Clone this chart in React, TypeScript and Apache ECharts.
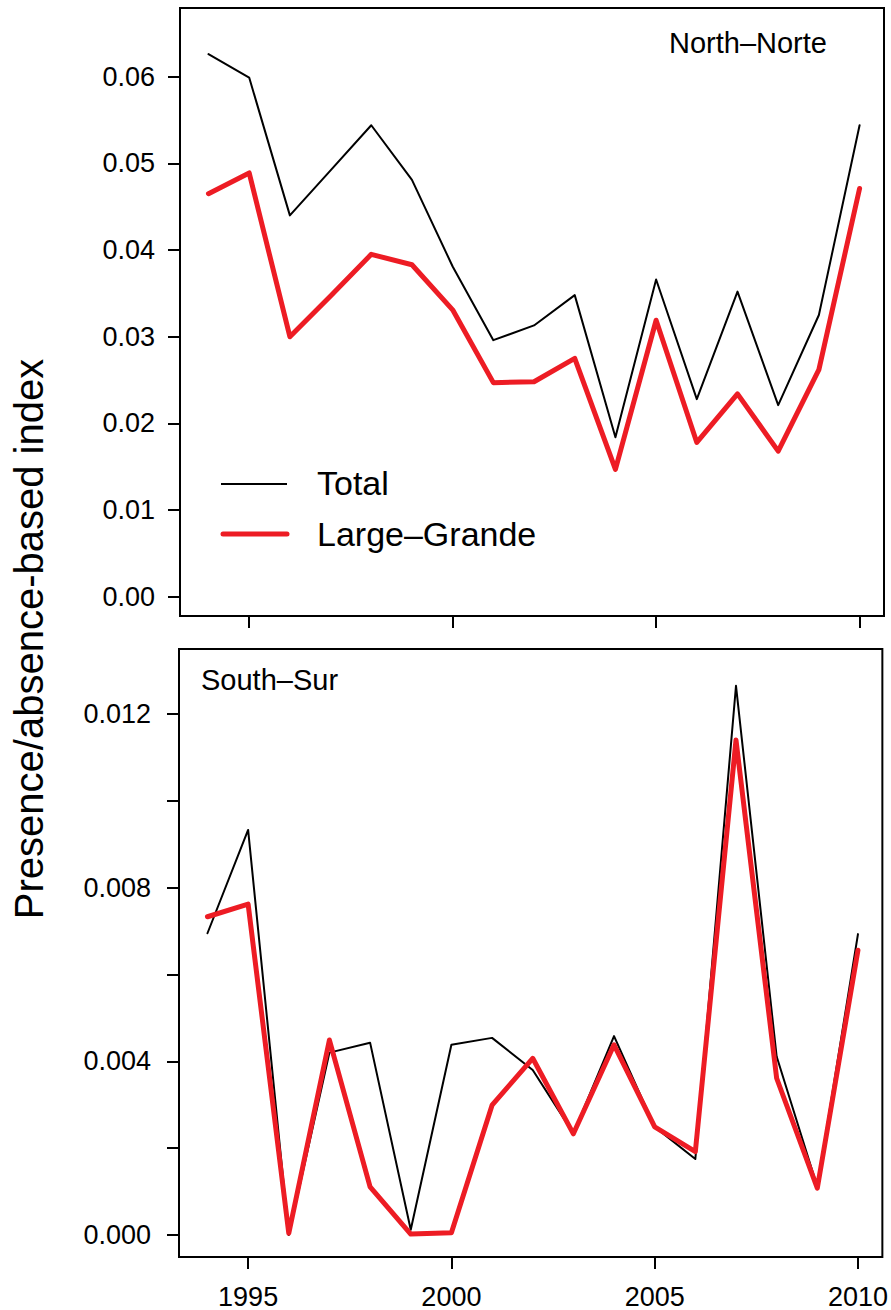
import React, { useEffect, useRef } from 'react';
import * as echarts from 'echarts';

// ---- data ----
const years = [1994, 1995, 1996, 1997, 1998, 1999, 2000, 2001, 2002, 2003, 2004, 2005, 2006, 2007, 2008, 2009, 2010];

const northTotal = [0.0626, 0.0599, 0.0440, 0.0492, 0.0544, 0.0481, 0.0381, 0.0296, 0.0313, 0.0348, 0.0184, 0.0366, 0.0228, 0.0352, 0.0221, 0.0325, 0.0544];
const northLarge = [0.0465, 0.0489, 0.0300, 0.0347, 0.0395, 0.0383, 0.0331, 0.0247, 0.0248, 0.0275, 0.0147, 0.0319, 0.0178, 0.0234, 0.0168, 0.0262, 0.0471];

const southTotal = [0.00695, 0.00933, 0.0000, 0.0042, 0.00443, 0.00012, 0.00438, 0.00454, 0.0038, 0.00234, 0.00458, 0.00249, 0.00175, 0.01265, 0.00411, 0.00111, 0.00693];
const southLarge = [0.00733, 0.00762, 0.00004, 0.00449, 0.00111, 0.00002, 0.00005, 0.00299, 0.00407, 0.00233, 0.00438, 0.00249, 0.00192, 0.0114, 0.00361, 0.00108, 0.00656];

const xTicks = [1995, 2000, 2005, 2010];
const northTicks = [0, 0.01, 0.02, 0.03, 0.04, 0.05, 0.06];
const southTicks = [0, 0.002, 0.004, 0.006, 0.008, 0.01, 0.012];
const southLabels = [0, 0.004, 0.008, 0.012];

const seriesNames = ['Total', 'Large–Grande'];
const panelNames = ['North–Norte', 'South–Sur'];
const yTitle = 'Presence/absence-based index';

const FONT = '"Liberation Sans", Arial, Helvetica, sans-serif';

export default function App() {
  const ref = useRef<HTMLDivElement>(null);

  useEffect(() => {
    if (!ref.current) return;
    const chart = echarts.init(ref.current, null, { renderer: 'svg', width: 891, height: 1310 });

    const pairs = (vals: number[]) => years.map((y, i) => [y, vals[i]]);

    const xAxis = (gridIndex: number, showLabels: boolean) => ({
      type: 'value',
      gridIndex,
      position: 'bottom',
      min: 1993.3,
      max: 2010.6,
      axisLine: { show: false, onZero: false },
      splitLine: { show: false },
      axisTick: { show: true, length: 12, customValues: xTicks, lineStyle: { color: '#000', width: 2 } },
      axisLabel: {
        show: showLabels,
        customValues: xTicks,
        margin: 26,
        fontSize: 27,
        color: '#000',
        fontFamily: FONT,
        formatter: (v: number) => String(v),
      },
    });

    const yAxis = (gridIndex: number, min: number, max: number, ticks: number[], labels: number[], digits: number, margin: number) => ({
      type: 'value',
      gridIndex,
      position: 'left',
      min,
      max,
      axisLine: { show: false, onZero: false },
      splitLine: { show: false },
      axisTick: { show: true, length: 12, customValues: ticks, lineStyle: { color: '#000', width: 2 } },
      axisLabel: {
        customValues: labels,
        margin,
        fontSize: 27,
        color: '#000',
        fontFamily: FONT,
        formatter: (v: number) => v.toFixed(digits),
      },
    });

    const lineSeries = (name: string, vals: number[], idx: number, color: string, width: number, z: number) => ({
      type: 'line',
      name,
      xAxisIndex: idx,
      yAxisIndex: idx,
      data: pairs(vals),
      symbol: 'none',
      z,
      lineStyle: { color, width, join: 'round', cap: 'round' },
    });

    const RED = '#ED1C24';

    chart.setOption({
      animation: false,
      backgroundColor: '#fff',
      grid: [
        { left: 180, top: 8, width: 704, height: 608, show: true, borderColor: '#000', borderWidth: 2, backgroundColor: 'transparent' },
        { left: 179, top: 649, width: 704, height: 608, show: true, borderColor: '#000', borderWidth: 2, backgroundColor: 'transparent' },
      ],
      xAxis: [xAxis(0, false), xAxis(1, true)],
      yAxis: [
        yAxis(0, -0.002227, 0.067927, northTicks, northTicks, 2, 25),
        yAxis(1, -0.000507, 0.013497, southTicks, southLabels, 3, 28),
      ],
      title: [
        { text: panelNames[0], left: 669, top: 28, padding: 0, textStyle: { fontSize: 29, fontWeight: 'normal', fontFamily: FONT, color: '#000' } },
        { text: panelNames[1], left: 201, top: 665, padding: 0, textStyle: { fontSize: 29, fontWeight: 'normal', fontFamily: FONT, color: '#000' } },
      ],
      series: [
        lineSeries(seriesNames[0], northTotal, 0, '#000', 2, 2),
        lineSeries(seriesNames[1], northLarge, 0, RED, 5, 3),
        lineSeries(seriesNames[0], southTotal, 1, '#000', 2, 2),
        lineSeries(seriesNames[1], southLarge, 1, RED, 5, 3),
      ],
      graphic: [
        {
          type: 'text',
          x: 29,
          y: 639,
          rotation: Math.PI / 2,
          style: { text: yTitle, fontSize: 40, fontFamily: FONT, fill: '#000', align: 'center', verticalAlign: 'middle' },
        },
        { type: 'line', shape: { x1: 221, y1: 484, x2: 287, y2: 484 }, style: { stroke: '#000', lineWidth: 2 } },
        { type: 'line', shape: { x1: 223, y1: 534, x2: 287, y2: 534 }, style: { stroke: RED, lineWidth: 5, lineCap: 'round' } },
        { type: 'text', x: 317, y: 483, style: { text: seriesNames[0], fontSize: 34, fontFamily: FONT, fill: '#000', align: 'left', verticalAlign: 'middle' } },
        { type: 'text', x: 317, y: 534, style: { text: seriesNames[1], fontSize: 34, fontFamily: FONT, fill: '#000', align: 'left', verticalAlign: 'middle' } },
      ],
    });

    return () => chart.dispose();
  }, []);

  return <div ref={ref} style={{ position: 'absolute', left: 0, top: 0, width: 891, height: 1310 }} />;
}
